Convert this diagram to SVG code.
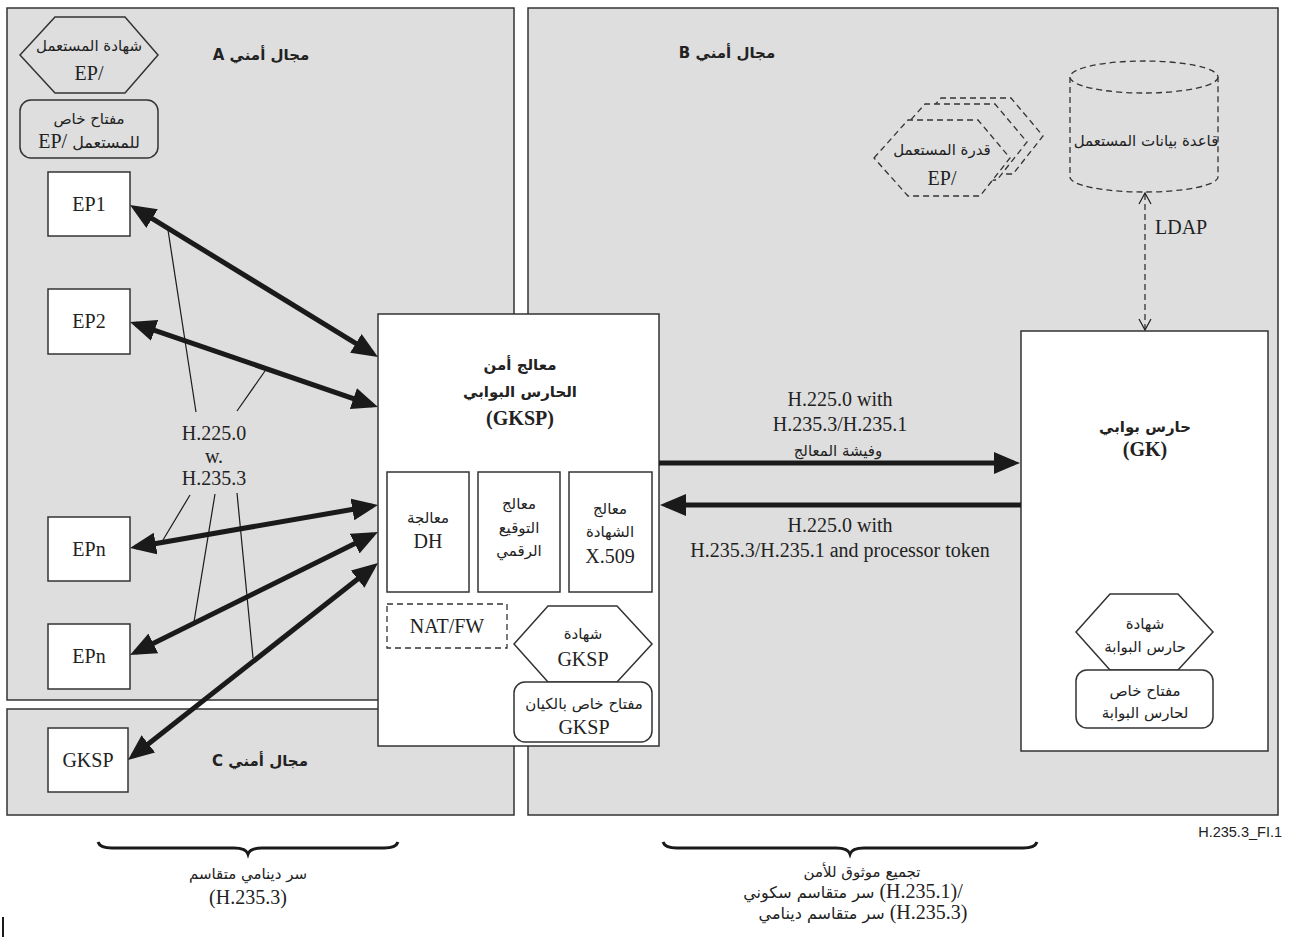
<svg xmlns="http://www.w3.org/2000/svg" width="1289" height="937" viewBox="0 0 1289 937">
<style>
.dom{fill:#dedede;stroke:#333;stroke-width:1.5}
.box{fill:#fff;stroke:#333;stroke-width:1.5}
.dash{fill:#dedede;stroke:#333;stroke-width:1.3;stroke-dasharray:6 4}
.t{font-family:"Liberation Serif","DejaVu Sans",serif;font-size:20px;fill:#222;text-anchor:middle}
.ar{font-family:"DejaVu Sans","Liberation Serif",sans-serif;font-size:15px;fill:#222;text-anchor:middle}
.as{font-family:"DejaVu Sans","Liberation Serif",sans-serif;font-size:16px}
.b{font-weight:bold}
.thick{stroke:#1a1a1a;stroke-width:5;fill:none;marker-start:url(#ah);marker-end:url(#ah)}
.one{stroke:#1a1a1a;stroke-width:5;fill:none;marker-end:url(#ah)}
.thin{stroke:#1a1a1a;stroke-width:1.2;fill:none}
.brace{stroke:#1a1a1a;stroke-width:3;fill:none}
</style>
<defs>
<marker id="ah" viewBox="0 0 26 22" refX="20" refY="11" markerWidth="26" markerHeight="22" markerUnits="userSpaceOnUse" orient="auto-start-reverse">
<path d="M0,0 L26,11 L0,22 Z" fill="#1a1a1a"/>
</marker>
</defs>
<rect width="1289" height="937" fill="#fff"/>

<g id="domainA">
<rect class="dom" x="7" y="8" width="507" height="692"/>
<text class="ar b" x="261" y="60" direction="rtl" font-size="16">مجال أمني A</text>
</g>
<g id="domainC">
<rect class="dom" x="7" y="709" width="507" height="106"/>
<text class="ar b" x="260" y="766" direction="rtl" font-size="16">مجال أمني C</text>
</g>
<g id="domainB">
<rect class="dom" x="528" y="8" width="750" height="807"/>
<text class="ar b" x="727" y="58" direction="rtl" font-size="16">مجال أمني B</text>
</g>

<g id="userCert">
<polygon class="dom" points="20,55 55,17 125,17 158,55 125,93 55,93"/>
<text class="ar" x="89" y="51" font-size="16">شهادة المستعمل</text>
<text class="t" x="89" y="80">EP/</text>
</g>
<g id="userKey">
<rect class="dom" x="20" y="100" width="138" height="58" rx="11"/>
<text class="ar" x="89" y="124" font-size="16">مفتاح خاص</text>
<text class="t" x="89" y="148" font-size="19">EP/ <tspan class="as">للمستعمل</tspan></text>
</g>

<g id="EP1"><rect class="box" x="48" y="172" width="82" height="64"/><text class="t" x="89" y="211">EP1</text></g>
<g id="EP2"><rect class="box" x="48" y="289" width="82" height="65"/><text class="t" x="89" y="328">EP2</text></g>
<g id="EPn1"><rect class="box" x="48" y="517" width="82" height="64"/><text class="t" x="89" y="556">EPn</text></g>
<g id="EPn2"><rect class="box" x="48" y="624" width="82" height="65"/><text class="t" x="89" y="663">EPn</text></g>
<g id="GKSPc"><rect class="box" x="48" y="728" width="80" height="64"/><text class="t" x="88" y="767">GKSP</text></g>

<g id="userCapability">
<polygon class="dash" points="907,136 941,98 1011,98 1043,136 1013,174 941,174"/>
<polygon class="dash" points="891,142 925,104 995,104 1027,142 997,180 925,180"/>
<polygon class="dash" points="874,158 908,120 978,120 1010,158 980,196 908,196"/>
<text class="ar" x="942" y="155" font-size="18">قدرة المستعمل</text>
<text class="t" x="942" y="185" font-size="22">EP/</text>
</g>

<g id="userDB">
<path class="dash" d="M1070,77 L1070,177 A74,15 0 0 0 1218,177 L1218,77"/>
<ellipse class="dash" cx="1144" cy="77" rx="74" ry="16"/>
<text class="ar" x="1146" y="146">قاعدة بيانات المستعمل</text>
</g>

<g id="GKSP">
<rect class="box" x="378" y="314" width="281" height="432"/>
<text class="ar b" x="520" y="370" font-size="19">معالج أمن</text>
<text class="ar b" x="520" y="397" font-size="19">الحارس البوابي</text>
<text class="t b" x="520" y="425">(GKSP)</text>
<g id="DHproc">
<rect class="box" x="387" y="472" width="82" height="120"/>
<text class="ar" x="428" y="523" font-size="16">معالجة</text>
<text class="t" x="428" y="548">DH</text>
</g>
<g id="sigProc">
<rect class="box" x="478" y="472" width="82" height="120"/>
<text class="ar" x="519" y="509" font-size="16">معالج</text>
<text class="ar" x="519" y="533" font-size="16">التوقيع</text>
<text class="ar" x="519" y="556" font-size="16">الرقمي</text>
</g>
<g id="certProc">
<rect class="box" x="569" y="472" width="83" height="120"/>
<text class="ar" x="610" y="514" font-size="16">معالج</text>
<text class="ar" x="610" y="537" font-size="16">الشهادة</text>
<text class="t" x="610" y="563">X.509</text>
</g>
<g id="natfw">
<rect x="387" y="604" width="120" height="44" fill="#fff" stroke="#333" stroke-width="1.3" stroke-dasharray="6 4"/>
<text class="t" x="447" y="633">NAT/FW</text>
</g>
<g id="gkspCert">
<polygon class="box" points="514,644 548,606 617,606 652,644 617,682 548,682"/>
<text class="ar" x="583" y="639" font-size="16">شهادة</text>
<text class="t" x="583" y="666">GKSP</text>
</g>
<g id="gkspKey">
<rect class="box" x="514" y="682" width="138" height="60" rx="11"/>
<text class="ar" x="584" y="709" font-size="16">مفتاح خاص بالكيان</text>
<text class="t" x="584" y="734">GKSP</text>
</g>
</g>

<g id="GK">
<rect class="box" x="1021" y="331" width="247" height="420"/>
<text class="ar b" x="1145" y="432" font-size="20">حارس بوابي</text>
<text class="t b" x="1145" y="456">(GK)</text>
<g id="gkCert">
<polygon class="box" points="1076,632 1110,594 1178,594 1213,632 1178,670 1110,670"/>
<text class="ar" x="1145" y="629">شهادة</text>
<text class="ar" x="1145" y="652">حارس البوابة</text>
</g>
<g id="gkKey">
<rect class="box" x="1076" y="670" width="137" height="58" rx="11"/>
<text class="ar" x="1145" y="696">مفتاح خاص</text>
<text class="ar" x="1145" y="718">لحارس البوابة</text>
</g>
</g>

<g id="connectors">
<line class="thick" x1="135.1" y1="208.1" x2="372.9" y2="353.9"/>
<line class="thick" x1="135.7" y1="323.9" x2="372.3" y2="405.1"/>
<line class="thick" x1="135.9" y1="547" x2="372.1" y2="506"/>
<line class="thick" x1="135.4" y1="652.3" x2="372.6" y2="534.7"/>
<line class="thick" x1="132.7" y1="756.3" x2="373.3" y2="566.7"/>
<line class="one" x1="659" y1="463" x2="1014" y2="463"/>
<line class="one" x1="1021" y1="505" x2="666" y2="505"/>
<line x1="1145" y1="194" x2="1145" y2="329" stroke="#333" stroke-width="1.3" stroke-dasharray="6 4"/>
<polyline class="thin" stroke-width="1.6" points="1139,204 1145,193 1151,204"/>
<polyline class="thin" stroke-width="1.6" points="1139,319 1145,330 1151,319"/>
<line class="thin" x1="168" y1="230" x2="196" y2="412"/>
<line class="thin" x1="265" y1="371" x2="237" y2="411"/>
<line class="thin" x1="190" y1="495" x2="163" y2="540"/>
<line class="thin" x1="215" y1="494" x2="194" y2="622"/>
<line class="thin" x1="237" y1="493" x2="253" y2="658"/>
</g>

<g id="labels">
<text class="t" x="214" y="440">H.225.0</text>
<text class="t" x="214" y="463">w.</text>
<text class="t" x="214" y="485">H.235.3</text>
<text class="t" x="840" y="406">H.225.0 with</text>
<text class="t" x="840" y="431">H.235.3/H.235.1</text>
<text class="ar" x="838" y="456" font-size="19">وفيشة المعالج</text>
<text class="t" x="840" y="532">H.225.0 with</text>
<text class="t" x="840" y="557">H.235.3/H.235.1 and processor token</text>
<text class="t" x="1155" y="234" text-anchor="start" style="text-anchor:start">LDAP</text>
</g>

<g id="braces">
<path class="brace" d="M98,842 Q100,848 112,848 L234,848 Q246,848 248,854 Q250,848 262,848 L384,848 Q396,848 398,842"/>
<text class="ar" x="248" y="879" font-size="16">سر دينامي متقاسم</text>
<text class="t" x="248" y="904">(H.235.3)</text>
<path class="brace" d="M663,842 Q665,848 677,848 L836,848 Q848,848 850,854 Q852,848 864,848 L1023,848 Q1035,848 1037,842"/>
<text class="ar" x="862" y="877" font-size="17">تجميع موثوق للأمن</text>
<text class="t" x="853" y="898"><tspan class="as" font-size="17">سر متقاسم سكوني</tspan> (H.235.1)/</text>
<text class="t" x="863" y="919"><tspan class="as" font-size="17">سر متقاسم دينامي</tspan> (H.235.3)</text>
</g>

<text x="1282" y="837" font-family="Liberation Sans, Arial, sans-serif" font-size="14.5" fill="#222" text-anchor="end">H.235.3_FI.1</text>
<line x1="3" y1="917" x2="3" y2="937" stroke="#1a1a1a" stroke-width="2"/>
</svg>
